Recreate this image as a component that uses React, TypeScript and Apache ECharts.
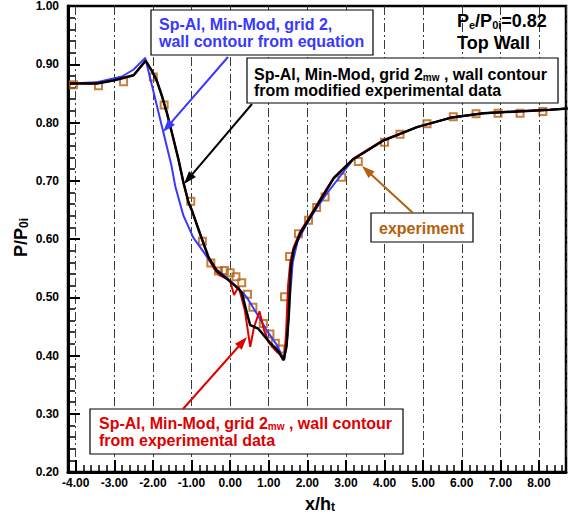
import React, { useEffect, useRef } from 'react';
import * as echarts from 'echarts';

// experiment (hollow squares)
const expData: number[][] = [
  [-4.06, 0.865], [-3.41, 0.863], [-2.76, 0.870], [-1.99, 0.878], [-1.71, 0.830],
  [-1.02, 0.665], [-0.72, 0.596], [-0.50, 0.559], [-0.30, 0.545], [-0.15, 0.546],
  [0.00, 0.542], [0.15, 0.535], [0.30, 0.525], [0.45, 0.505], [0.59, 0.483],
  [0.86, 0.455], [1.03, 0.437], [1.17, 0.421], [1.31, 0.411], [1.41, 0.501],
  [1.54, 0.570], [1.77, 0.609], [2.03, 0.632], [2.24, 0.654], [2.46, 0.672],
  [2.89, 0.706], [3.32, 0.733], [4.00, 0.766], [4.40, 0.780], [5.10, 0.798],
  [5.78, 0.810], [6.37, 0.815], [6.94, 0.816], [7.51, 0.816], [8.10, 0.819],
];

// Sp-Al, Min-Mod, grid 2, wall contour from equation
const blueData: number[][] = [
  [-4.15, 0.867], [-3.45, 0.869], [-2.80, 0.879], [-2.50, 0.891], [-2.20, 0.911],
  [-1.96, 0.846], [-1.74, 0.786], [-1.52, 0.726], [-1.42, 0.690], [-1.21, 0.640],
  [-0.95, 0.602], [-0.69, 0.578], [-0.43, 0.552], [-0.09, 0.534], [0.17, 0.518],
  [0.43, 0.500], [0.69, 0.472], [0.95, 0.443], [1.21, 0.418], [1.40, 0.392],
  [1.48, 0.430], [1.55, 0.500], [1.62, 0.560], [1.75, 0.597], [2.00, 0.628],
  [2.25, 0.654], [2.50, 0.678], [2.76, 0.700], [3.19, 0.737], [3.97, 0.769],
  [4.84, 0.792], [5.70, 0.808], [6.56, 0.816], [7.43, 0.819], [8.29, 0.822],
  [8.75, 0.824],
];

// Sp-Al, Min-Mod, grid 2mw, wall contour from modified experimental data
const blackData: number[][] = [
  [-4.15, 0.867], [-3.45, 0.867], [-3.03, 0.872], [-2.50, 0.881], [-2.19, 0.906],
  [-2.03, 0.889], [-1.90, 0.872], [-1.77, 0.846], [-1.64, 0.817], [-1.47, 0.772],
  [-1.34, 0.737], [-1.21, 0.697], [-1.08, 0.663], [-0.99, 0.649], [-0.78, 0.609],
  [-0.56, 0.569], [-0.34, 0.545], [-0.09, 0.532], [0.07, 0.523], [0.24, 0.513],
  [0.30, 0.508], [0.43, 0.474], [0.52, 0.452], [0.73, 0.446], [1.02, 0.423],
  [1.25, 0.407], [1.38, 0.392], [1.46, 0.415], [1.52, 0.470], [1.57, 0.550],
  [1.64, 0.580], [1.81, 0.609], [2.07, 0.637], [2.33, 0.666], [2.68, 0.704],
  [3.19, 0.737], [3.97, 0.769], [4.84, 0.792], [5.70, 0.808], [6.56, 0.816],
  [7.43, 0.819], [8.29, 0.822], [8.75, 0.824],
];

// Sp-Al, Min-Mod, grid 2mw, wall contour from experimental data
const redData: number[][] = [
  [-4.15, 0.867], [-3.45, 0.867], [-3.03, 0.872], [-2.50, 0.881], [-2.19, 0.906],
  [-2.03, 0.889], [-1.90, 0.872], [-1.77, 0.846], [-1.64, 0.817], [-1.47, 0.772],
  [-1.34, 0.737], [-1.21, 0.697], [-1.08, 0.663], [-0.99, 0.649], [-0.78, 0.609],
  [-0.56, 0.567], [-0.40, 0.547], [-0.26, 0.537], [-0.10, 0.532], [0.00, 0.528],
  [0.10, 0.504], [0.22, 0.518], [0.38, 0.478], [0.52, 0.415], [0.62, 0.449],
  [0.76, 0.476], [0.88, 0.443], [1.00, 0.422], [1.17, 0.409], [1.36, 0.398],
  [1.40, 0.395], [1.45, 0.440], [1.50, 0.520], [1.56, 0.562], [1.64, 0.585],
  [1.81, 0.612], [2.07, 0.640], [2.33, 0.668], [2.68, 0.705], [3.19, 0.738],
  [3.97, 0.770], [4.84, 0.792], [5.70, 0.808], [6.56, 0.816], [7.43, 0.819],
  [8.29, 0.822], [8.75, 0.824],
];

const FONT = '"Liberation Sans", Arial, Helvetica, sans-serif';
const BLUE = '#3838ff';
const RED = '#e00000';
const BROWN = '#b5600b';
const BLACK = '#000000';

function arrow(x1: number, y1: number, x2: number, y2: number, color: string) {
  const dx = x2 - x1, dy = y2 - y1;
  const L = Math.hypot(dx, dy);
  const ux = dx / L, uy = dy / L;
  const hl = 13, hw = 4.5;
  const bx = x2 - ux * hl, by = y2 - uy * hl;
  return [
    { type: 'line', z: 100, shape: { x1, y1, x2: bx + ux * 2, y2: by + uy * 2 }, style: { stroke: color, lineWidth: 2 } },
    {
      type: 'polygon', z: 100,
      shape: { points: [[x2, y2], [bx - uy * hw, by + ux * hw], [bx + uy * hw, by - ux * hw]] },
      style: { fill: color },
    },
  ];
}

function rich(color: string, main: number, lh: number, sub: number, subLh: number) {
  return {
    a: { fontSize: main, fontWeight: 'bold', fontFamily: FONT, fill: color, lineHeight: lh, verticalAlign: 'middle' },
    b: { fontSize: main, fontWeight: 'bold', fontFamily: FONT, fill: color, lineHeight: lh + 4, verticalAlign: 'bottom' },
    s: { fontSize: sub, fontWeight: 'bold', fontFamily: FONT, fill: color, lineHeight: subLh, verticalAlign: 'bottom' },
  };
}

// multi-line rich text block positioned by its top-left corner
function block(x: number, top: number, text: string, color: string, lh: number, main = 16, sub = 10, subLh = 7, extra: any = {}) {
  return {
    type: 'text', z: 101, x, y: top, ...extra,
    style: {
      text, rich: rich(color, main, lh, sub, subLh), fill: color, fontFamily: FONT, fontWeight: 'bold',
      fontSize: main, lineHeight: lh, align: 'left', verticalAlign: 'top',
    },
  };
}

function box(x: number, y: number, w: number, h: number) {
  return { type: 'rect', z: 99, shape: { x, y, width: w, height: h }, style: { fill: '#fff', stroke: '#000', lineWidth: 1.2 } };
}

export default function App() {
  const ref = useRef<HTMLDivElement>(null);
  useEffect(() => {
    if (!ref.current) return;
    const chart = echarts.init(ref.current, null, { renderer: 'svg' });
    const axisCommon = {
      axisLine: { show: true, onZero: false, lineStyle: { color: '#000', width: 3 } },
      axisTick: { show: true, inside: true, length: 12, lineStyle: { color: '#000', width: 2 } },
      minorTick: { show: true, splitNumber: 5, length: 7, lineStyle: { color: '#000', width: 1.5 } },
    };
    const labelStyle = { fontFamily: FONT, fontWeight: 'bold', fontSize: 12, color: '#000' };
    const option: any = {
      animation: false,
      backgroundColor: '#fff',
      grid: { left: 68, right: 9, top: 5, bottom: 44, show: true, borderColor: '#000', borderWidth: 2.5 },
      xAxis: {
        type: 'value', min: -4.2, max: 8.7, minInterval: 1, maxInterval: 1, splitNumber: 13,
        ...axisCommon,
        axisLabel: {
          ...labelStyle, margin: 5,
          formatter: (v: number) => (Math.abs(v - Math.round(v)) < 1e-6 ? v.toFixed(2) : ''),
        },
        splitLine: { show: true, lineStyle: { color: '#3a3a3a', width: 1, type: [9, 3, 2, 3] } },
      },
      yAxis: {
        type: 'value', min: 0.2, max: 1.0, interval: 0.1,
        ...axisCommon,
        axisLabel: { ...labelStyle, margin: 9, formatter: (v: number) => v.toFixed(2) },
        splitLine: { show: false },
      },
      series: [
        {
          type: 'scatter', data: expData, symbol: 'rect', symbolSize: 7, z: 1,
          itemStyle: { color: 'rgba(255,255,255,0)', borderColor: BROWN, borderWidth: 2 },
        },
        { type: 'line', data: blueData, symbol: 'none', z: 2, lineStyle: { color: BLUE, width: 2 } },
        { type: 'line', data: redData, symbol: 'none', z: 3, lineStyle: { color: RED, width: 2 } },
        { type: 'line', data: blackData, symbol: 'none', z: 4, lineStyle: { color: BLACK, width: 2.5 } },
      ],
      graphic: [
        // blue annotation
        box(151, 10, 222, 45),
        block(159, 15.5, '{a|Sp-Al, Min-Mod, grid 2,}\n{a|wall contour from equation}', BLUE, 17),
        ...arrow(228, 57, 163, 132, BLUE),
        // black annotation
        box(247, 58, 311, 45),
        block(254, 66, '{a|Sp-Al, Min-Mod, grid 2}{s|mw}{a| , wall contour}\n{a|from modified experimental data}', BLACK, 16),
        ...arrow(252, 104, 184, 184, BLACK),
        // experiment annotation
        box(371, 213, 102, 29),
        block(379, 219.5, '{a|experiment}', BROWN, 17),
        ...arrow(413, 213, 362, 166, BROWN),
        // red annotation
        box(90, 409, 313, 45),
        block(99, 414.5, '{a|Sp-Al, Min-Mod, grid 2}{s|mw}{a| , wall contour}\n{a|from experimental data}', RED, 17),
        ...arrow(183, 409, 247, 337, RED),
        // top-right label
        block(457, 12, '{a|P}{s|e}{a|/P}{s|0i}{a|=0.82}\n{b|Top Wall}', BLACK, 18, 18, 11, 8),
        // x axis title
        block(305, 495, '{a|x/h}{s|t}', BLACK, 18, 18, 12, 8),
        // y axis title (rotated)
        {
          type: 'group', x: 21, y: 257, rotation: Math.PI / 2, z: 101,
          children: [block(0, -9, '{a|P/P}{s|0i}', BLACK, 18, 18, 12, 6)],
        },
      ],
    };
    chart.setOption(option);
    return () => chart.dispose();
  }, []);
  return (
    <div
      ref={ref}
      style={{ position: 'fixed', left: 0, top: 0, width: 575, height: 516, background: '#fff' }}
    />
  );
}
